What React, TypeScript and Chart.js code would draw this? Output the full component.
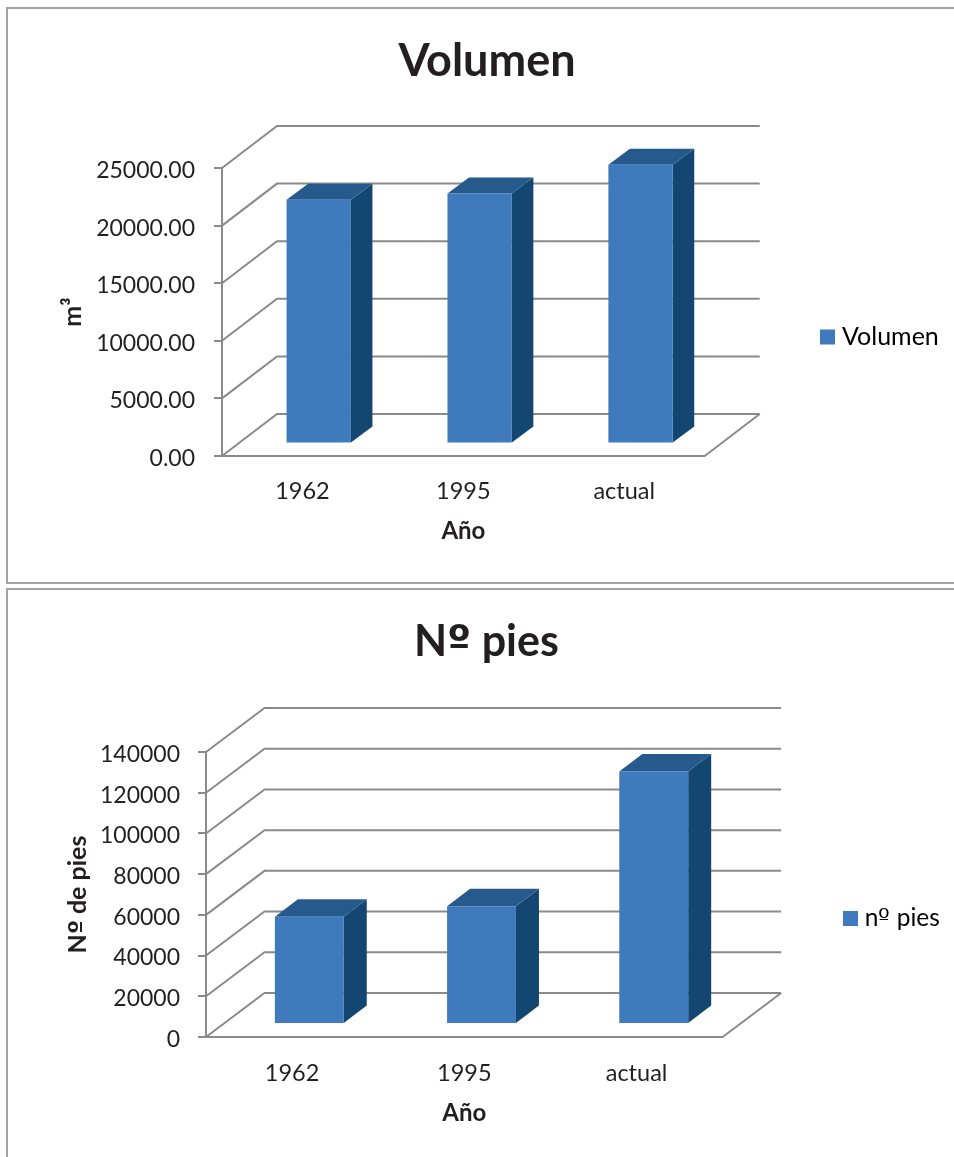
import React, { useEffect, useRef } from "react";
import { Chart, registerables } from "chart.js";

Chart.register(...registerables);

const categories = ["1962", "1995", "actual"];
const volumeValues = [21150, 21700, 24200];
const treeValues = [52700, 57900, 124000];
const volumeTicks = [0, 5000, 10000, 15000, 20000, 25000];

// The ordinal sign comes from a face that draws it underlined.
const FONT = "Ordinal, Lato, sans-serif";
const FONT_FACES = `
@font-face { font-family: Ordinal; font-weight: 400; src: local("DejaVu Sans"); unicode-range: U+BA; }
@font-face { font-family: Ordinal; font-weight: 700; src: local("DejaVu Sans Bold"); unicode-range: U+BA; }
`;
const INK = "#231f20";
const GRID = "#8a8a8a";
const FRONT = "#3f7abc";
const SIDE = "#144672";
const CAP = "#275a8c";

type Panel = {
  title: string;
  titleSize: number;
  seriesName: string;
  legendSize: number;
  values: number[];
  yTitle: string;
  max: number;
  step: number;
  decimals: number;
  top: number;
  height: number;
  wall: { dx: number; dy: number };
  bar: { dx: number; dy: number; depthX: number; depthY: number };
  yWidth: number;
  xHeight: number;
  xTickPad: number;
  paddingRight: number;
  paddingBottom: number;
  titlePadding: { top: number; bottom: number };
  titleCenter: number;
  legendLeft: number;
  legendShiftY: number;
  yTitlePad: number;
  tickPad: number;
};

const panels: Panel[] = [
  {
    title: "Volumen",
    titleSize: 45,
    seriesName: "Volumen",
    legendSize: 25,
    values: volumeValues,
    yTitle: "m³",
    max: volumeTicks[volumeTicks.length - 1],
    step: volumeTicks[1],
    decimals: 2,
    top: 0,
    height: 585,
    wall: { dx: 55, dy: -42 },
    bar: { dx: 16.3, dy: -12.5, depthX: 21.5, depthY: -16 },
    yWidth: 222,
    xHeight: 90,
    xTickPad: 13,
    paddingRight: 116,
    paddingBottom: 39,
    titlePadding: { top: 34, bottom: 80 },
    titleCenter: 487,
    legendLeft: 815.5,
    legendShiftY: 64,
    yTitlePad: 58,
    tickPad: 19,
  },
  {
    title: "Nº pies",
    titleSize: 43,
    seriesName: "nº pies",
    legendSize: 24.5,
    values: treeValues,
    yTitle: "Nº de pies",
    max: 140000,
    step: 20000,
    decimals: 0,
    top: 585,
    height: 572,
    wall: { dx: 58.5, dy: -44 },
    bar: { dx: 17.2, dy: -13, depthX: 23, depthY: -17.5 },
    yWidth: 206,
    xHeight: 91,
    xTickPad: 14,
    paddingRight: 120,
    paddingBottom: 29,
    titlePadding: { top: 31, bottom: 84.4 },
    titleCenter: 486.5,
    legendLeft: 838.5,
    legendShiftY: 62,
    yTitlePad: 63,
    tickPad: 18,
  },
];

// Pseudo-3D walls, floor and bar faces, derived from the scales and bar elements.
const depthPlugin = (panel: Panel) => ({
  id: "depth",
  afterLayout(chart: any) {
    const title = chart.titleBlock;
    if (title) {
      const shift = panel.titleCenter - (title.left + title.right) / 2;
      title.left += shift;
      title.right += shift;
    }
    const legend = chart.legend;
    if (legend) {
      const w = legend.right - legend.left;
      legend.left = panel.legendLeft;
      legend.right = panel.legendLeft + w;
      legend.top += panel.legendShiftY;
      legend.bottom += panel.legendShiftY;
    }
  },
  beforeDraw(chart: any) {
    // Lato sits high on its middle baseline; settle the value labels on their ticks
    const y = chart.scales.y;
    for (const item of y.getLabelItems(chart.chartArea)) {
      if (!item.options.nudged) {
        item.options.translation[1] += 2.5;
        item.options.nudged = true;
      }
    }
  },
  beforeDatasetsDraw(chart: any) {
    const { ctx, chartArea, scales } = chart;
    const { dx, dy } = panel.wall;
    const y = scales.y;
    ctx.save();
    ctx.strokeStyle = GRID;
    ctx.lineWidth = 2;
    ctx.beginPath();
    for (const tick of y.ticks) {
      const py = y.getPixelForValue(tick.value);
      ctx.moveTo(chartArea.left, py);
      ctx.lineTo(chartArea.left + dx, py + dy);
      ctx.lineTo(chartArea.right + dx, py + dy);
    }
    // Right-hand edge of the floor
    ctx.moveTo(chartArea.right, chartArea.bottom);
    ctx.lineTo(chartArea.right + dx, chartArea.bottom + dy);
    ctx.stroke();

    const { dx: bx, dy: by, depthX, depthY } = panel.bar;
    const meta = chart.getDatasetMeta(0);
    for (const el of meta.data) {
      const p = el.getProps(["x", "y", "base", "width"], true);
      const l = p.x - p.width / 2 + bx;
      const r = p.x + p.width / 2 + bx;
      const t = p.y + by;
      const b = p.base + by;
      ctx.fillStyle = SIDE;
      ctx.beginPath();
      ctx.moveTo(r, t);
      ctx.lineTo(r + depthX, t + depthY);
      ctx.lineTo(r + depthX, b + depthY);
      ctx.lineTo(r, b);
      ctx.closePath();
      ctx.fill();
      ctx.fillStyle = CAP;
      ctx.beginPath();
      ctx.moveTo(l, t);
      ctx.lineTo(l + depthX, t + depthY);
      ctx.lineTo(r + depthX, t + depthY);
      ctx.lineTo(r, t);
      ctx.closePath();
      ctx.fill();
    }
    ctx.restore();
    // The front face is the library's own bar, moved onto the middle of the floor
    ctx.save();
    ctx.translate(bx, by);
  },
  afterDatasetsDraw(chart: any) {
    chart.ctx.restore();
  },
});

function PanelChart({ panel }: { panel: Panel }) {
  const ref = useRef<HTMLCanvasElement>(null);
  useEffect(() => {
    let chart: Chart | null = null;
    let cancelled = false;
    const build = () => {
      if (cancelled) return;
      chart = new Chart(ref.current!, {
        type: "bar",
        data: {
          labels: categories,
          datasets: [
            {
              label: panel.seriesName,
              data: panel.values,
              backgroundColor: FRONT,
              borderWidth: 0,
              categoryPercentage: 1,
              barPercentage: 0.4,
            },
          ],
        },
        options: {
          animation: false,
          responsive: false,
          layout: { padding: { right: panel.paddingRight, bottom: panel.paddingBottom } },
          plugins: {
            tooltip: { enabled: false },
            title: {
              display: true,
              text: panel.title,
              color: INK,
              font: { family: FONT, size: panel.titleSize, weight: "bold" },
              padding: panel.titlePadding,
            },
            legend: {
              position: "right",
              labels: {
                color: INK,
                font: { family: FONT, size: panel.legendSize },
                boxWidth: 4,
                boxHeight: 4,
                padding: 10,
                generateLabels: () => [
                  {
                    text: panel.seriesName,
                    fillStyle: FRONT,
                    strokeStyle: FRONT,
                    lineWidth: 11,
                    datasetIndex: 0,
                  },
                ],
              },
            },
          },
          scales: {
            x: {
              grid: { display: false },
              border: { display: true, color: GRID, width: 2 },
              ticks: { color: INK, font: { family: FONT, size: 23.5 }, padding: panel.xTickPad, maxRotation: 0 },
              title: {
                display: true,
                text: "Año",
                color: INK,
                font: { family: FONT, size: 24, weight: "bold" },
                padding: { top: 8, bottom: 0 },
              },
              afterFit: (s: any) => {
                s.height = panel.xHeight;
              },
            },
            y: {
              min: 0,
              max: panel.max,
              grid: {
                drawOnChartArea: false,
                drawTicks: true,
                tickLength: 8,
                color: GRID,
                lineWidth: 2,
              },
              border: { display: true, color: GRID, width: 2 },
              ticks: {
                stepSize: panel.step,
                color: INK,
                font: { family: FONT, size: 23 },
                padding: panel.tickPad,
                callback: (v: any) => Number(v).toFixed(panel.decimals),
              },
              title: {
                display: true,
                text: panel.yTitle,
                color: INK,
                font: { family: FONT, size: 25, weight: "bold" },
                padding: { top: panel.yTitlePad, bottom: 0 },
              },
              afterFit: (s: any) => {
                s.width = panel.yWidth;
              },
            },
          },
        },
        plugins: [depthPlugin(panel)],
      } as any);
    };
    // Canvas text only sees the ordinal face once it has been loaded
    Promise.all([
      document.fonts.load(`400 25px Ordinal`, "º"),
      document.fonts.load(`700 45px Ordinal`, "º"),
    ]).then(build, build);
    return () => {
      cancelled = true;
      chart?.destroy();
    };
  }, [panel]);
  return (
    <canvas
      ref={ref}
      width={954}
      height={panel.height}
      style={{ position: "absolute", left: 0, top: panel.top, display: "block" }}
    />
  );
}

export default function App() {
  const frame = {
    position: "absolute" as const,
    left: 6,
    right: -4,
    border: "2px solid #a3a3a5",
    boxSizing: "border-box" as const,
  };
  return (
    <div style={{ position: "absolute", left: 0, top: 0, width: 954, height: 1157, overflow: "hidden", background: "#fff" }}>
      <style>{FONT_FACES}</style>
      <div style={{ ...frame, top: 7, height: 577 }} />
      <div style={{ ...frame, top: 588, height: 600 }} />
      {panels.map((p) => (
        <PanelChart key={p.title} panel={p} />
      ))}
    </div>
  );
}
